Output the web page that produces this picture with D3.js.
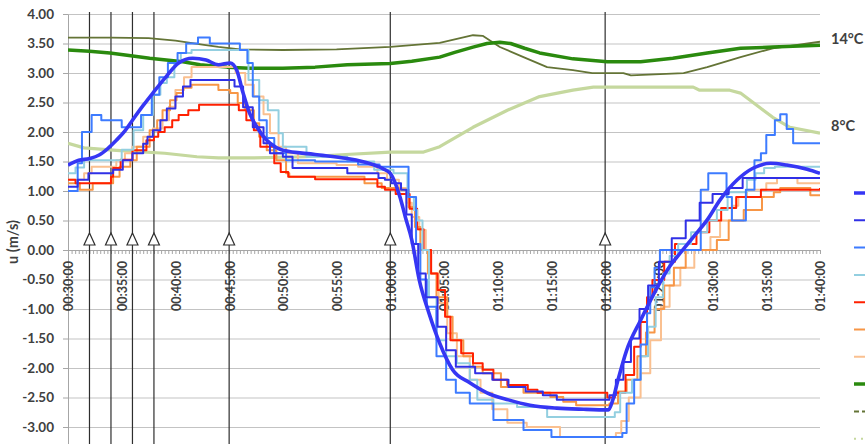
<!DOCTYPE html>
<html>
<head>
<meta charset="utf-8">
<script src="https://cdn.jsdelivr.net/npm/d3@7"></script>
<style>
  html, body { margin: 0; padding: 0; background: #fff; }
  svg { display: block; }
  text { font-family: Lato, "Open Sans", sans-serif; fill: #404040; }
</style>
</head>
<body>
<svg id="chart" width="865" height="444"></svg>
<script>
// x values are minutes of record, u in m/s, temperatures in degC
const xTickLabels = ["00:30:00","00:35:00","00:40:00","00:45:00","00:50:00","00:55:00","01:00:00",
                     "01:05:00","01:10:00","01:15:00","01:20:00","01:25:00","01:30:00","01:35:00","01:40:00"];
const yTickLabels = ["-3.00","-2.50","-2.00","-1.50","-1.00","-0.50","0.00","0.50","1.00","1.50",
                     "2.00","2.50","3.00","3.50","4.00"];
const tempTickLabels = ["8°C", "14°C"];
const markerMinutes = [32, 34, 36, 38, 45, 60, 80];

// depth averaged velocity (thick blue)
const uMean = [[30,1.44],[31,1.52],[32,1.55],[32.9,1.61],[33.7,1.72],[34.5,1.86],[35.3,2.02],[36,2.2],
  [37,2.45],[37.9,2.66],[39.1,2.93],[40.3,3.17],[41.6,3.25],[42.85,3.22],[44,3.14],[45.1,3.17],[45.7,3.05],
  [46.3,2.66],[46.9,2.32],[47.6,2.08],[48.2,1.92],[48.8,1.81],[50,1.69],[53,1.62],[56,1.55],[58,1.47],
  [59.3,1.38],[60,1.3],[60.9,0.9],[61.4,0.56],[62,0.17],[62.7,-0.51],[63.6,-1.07],[64.6,-1.58],[65.8,-2.03],
  [67.4,-2.25],[69,-2.42],[71,-2.54],[73,-2.63],[75.5,-2.68],[78,-2.7],[80.3,-2.71],[80.7,-2.55],[81.2,-2.2],
  [82,-1.7],[83.3,-1.19],[84.9,-0.62],[86,-0.28],[87,-0.05],[88.2,0.22],[89.5,0.51],[90.7,0.85],
  [92.3,1.19],[93.8,1.39],[95.4,1.47],[96.9,1.44],[98.8,1.37],[100,1.3]];

const uBin1 = [[30,1.07],[30.9,1.19],[31.9,1.3],[34.2,1.36],[35.1,1.52],[36,1.64],[37,1.8],[37.4,1.92],
  [37.9,2.03],[38.6,2.2],[39.2,2.4],[40,2.6],[40.7,2.77],[41.4,2.88],[45.5,2.77],[46.3,2.42],[47.2,2.08],
  [48.2,1.81],[48.8,1.64],[50,1.58],[50.9,1.39],[56,1.3],[58.9,1.22],[59.5,1.19],[60.1,1.13],[61,1.02],
  [61.5,0.6],[62,0.1],[62.6,-0.4],[63.3,-0.8],[64.4,-1.3],[65.2,-1.7],[66.1,-1.98],[67.9,-2.09],[69.5,-2.2],
  [71,-2.32],[72.6,-2.4],[74.2,-2.46],[75.5,-2.54],[80.4,-2.46],[81,-2.2],[81.7,-1.9],[82.4,-1.5],[83.2,-1.0],
  [84,-0.6],[85,-0.2],[86.2,0.2],[87.5,0.5],[88.8,0.8],[90,0.95],[91.5,1.05],[92.8,1.22],[100,1.22]];

const uBin2 = [[30,1.0],[30.9,1.47],[31.3,2.0],[32.2,2.29],[33.1,2.2],[35,2.08],[36.8,2.29],[37.8,2.63],
  [38.5,2.93],[39.3,3.17],[40.2,3.34],[41,3.5],[42.1,3.6],[43.2,3.5],[46,3.39],[46.7,3.17],[47.2,2.6],
  [47.8,2.2],[48.5,1.9],[49.2,1.64],[50.3,1.52],[53,1.5],[57,1.45],[59,1.41],[61.7,0.9],[62.4,0.1],
  [62.8,-0.5],[63.4,-0.96],[64.3,-1.8],[65.2,-2.2],[66.1,-2.42],[67.4,-2.6],[69.6,-2.88],[72.4,-3.05],
  [75,-3.17],[81.6,-3.1],[82,-2.6],[82.7,-2.2],[83.3,-1.6],[83.9,-1.07],[84.2,-0.63],[84.6,-0.3],[85.1,0.0],
  [88.9,1.02],[89.6,1.3],[91.3,0.9],[91.8,0.5],[93.1,1.02],[93.9,1.52],[94.5,1.64],[95,1.95],[95.8,2.2],
  [96.3,2.3],[96.9,2.05],[97.5,1.81],[100,1.81]];

const uBin3 = [[30,1.3],[30.7,1.4],[31.5,1.52],[35,1.7],[36.1,2.03],[37,2.29],[37.9,2.63],[38.6,2.83],
  [39.2,2.93],[39.9,3.17],[40.5,3.34],[41.5,3.39],[46.8,2.88],[47.8,2.54],[48.6,2.37],[49.6,1.98],[50,1.75],
  [52.2,1.58],[56,1.5],[58.5,1.36],[60.3,1.3],[61.6,0.9],[62.2,0.68],[62.5,0.5],[63,0.0],[63.6,-0.8],
  [64.3,-1.53],[65.2,-1.8],[66.2,-1.92],[67.4,-2.2],[68.1,-2.54],[69.6,-2.6],[71.8,-2.66],[74.6,-2.83],
  [80.9,-2.75],[81.4,-2.42],[82.5,-2.2],[83.3,-1.8],[84,-1.3],[84.7,-0.8],[85.4,-0.4],[86,-0.1],[86.8,0.1],
  [88,0.3],[89.5,0.5],[90.4,0.68],[91.4,0.98],[93.2,1.19],[94,1.3],[94.8,1.39],[95.8,1.41],[100,1.41]];

const uBin4 = [[30,1.19],[30.7,1.13],[34,1.24],[34.2,1.39],[34.9,1.53],[36,1.69],[37.3,1.86],[38,1.92],
  [38.4,2.0],[39,2.08],[39.7,2.2],[40.3,2.29],[41.2,2.37],[42.2,2.46],[45.9,2.37],[46.6,2.2],[47.3,2.03],
  [47.9,1.75],[49.2,1.47],[49.8,1.32],[50.5,1.24],[53,1.2],[58.8,1.07],[59.5,1.02],[60.5,0.95],[61.8,0.7],
  [62.5,0.35],[63.1,0.0],[63.8,-0.4],[64.4,-0.68],[65.1,-1.13],[65.6,-1.53],[66.6,-1.75],[67.7,-1.92],
  [68.6,-2.03],[69.6,-2.2],[70.9,-2.29],[72.8,-2.37],[73.7,-2.42],[80.2,-2.5],[80.9,-2.42],[81.9,-2.12],
  [82.7,-1.64],[83.3,-1.22],[83.9,-0.8],[84.4,-0.51],[85.5,-0.2],[86.5,0.1],[88.5,0.3],[89.7,0.5],
  [90.8,0.71],[92.2,0.9],[94.5,1.02],[100,1.05]];

const uBin5 = [[30,1.13],[31.1,1.02],[32.3,1.13],[34.2,1.24],[34.8,1.41],[35.8,1.52],[36.4,1.75],[37.6,2.03],
  [38.3,2.2],[38.8,2.37],[39.5,2.54],[40.1,2.66],[40.7,2.75],[41.5,2.8],[44,2.71],[45.1,2.66],[45.8,2.49],
  [46.5,2.37],[47.3,2.15],[47.8,1.92],[48.5,1.69],[49.4,1.52],[50.3,1.3],[50.6,1.24],[57.6,1.13],[59.2,1.05],
  [60.8,1.02],[61.7,0.73],[62.3,0.39],[62.8,0.0],[63.5,-0.4],[64.3,-0.8],[65.3,-1.13],[65.8,-1.53],[66.8,-1.8],
  [67.7,-1.98],[68.6,-2.09],[70.3,-2.32],[72.4,-2.42],[74.9,-2.49],[76.1,-2.57],[77.3,-2.63],[80.4,-2.6],
  [81.2,-2.4],[82,-2.2],[83,-1.8],[83.8,-1.4],[84.6,-1.0],[85.5,-0.6],[86.4,-0.3],[87.5,0.0],[90.4,0.17],
  [91.5,0.5],[92.9,0.68],[94.6,0.9],[95.7,0.98],[96.3,1.05],[99.1,0.93],[100,0.93]];

const uBin6 = [[30,1.19],[31.5,1.3],[32.2,1.41],[34.5,1.52],[35.3,1.64],[36,1.75],[37,1.92],[37.9,2.06],
  [38.8,2.2],[39.4,2.43],[40,2.71],[40.8,2.93],[41.5,3.1],[45.6,3.0],[46.5,2.8],[47.3,2.6],[48.2,2.3],
  [48.8,1.98],[49.6,1.75],[50.3,1.64],[51.4,1.47],[55,1.44],[57,1.41],[58.8,1.3],[59.7,1.19],[60.8,1.05],
  [61.5,0.8],[62,0.56],[62.7,0.34],[63.3,0.0],[63.8,-0.4],[64.5,-0.9],[65.3,-1.41],[66.2,-1.8],[67.4,-2.2],
  [68.4,-2.42],[69.5,-2.7],[70.9,-2.93],[72.7,-3.0],[75.8,-3.17],[81,-3.1],[81.5,-2.9],[82.2,-2.5],
  [83.3,-2.09],[84.2,-1.53],[85.2,-0.96],[86,-0.6],[87,-0.3],[88.3,0.0],[89.8,0.22],[90.7,0.5],[91.8,0.75],
  [92.4,0.9],[93.2,1.02],[95,1.13],[96,1.22],[97.9,1.13],[100,1.13]];

// water temperatures (degC)
const tempTop = [[30,13.24],[32,13.16],[33.9,13.04],[35.5,12.88],[37.6,12.67],[40.7,12.43],[42.3,12.23],
  [44.8,12.06],[46.9,11.98],[50,11.98],[53,12.06],[56,12.23],[60,12.31],[62,12.47],[64.6,12.75],[66,13.08],
  [67.7,13.44],[69,13.69],[70.2,13.77],[71.2,13.69],[72.5,13.36],[73.9,13.04],[77,12.63],[80.2,12.43],
  [83.3,12.43],[86.3,12.67],[89.5,13.04],[92.6,13.36],[95.6,13.44],[100,13.57]];

const tempMid = [[30,14.1],[34,14.1],[37.5,14.06],[40,13.89],[42.5,13.61],[44,13.45],[46,13.28],[50,13.24],
  [55,13.28],[60,13.45],[64.6,13.73],[67.7,14.26],[68.6,14.22],[70.2,13.45],[72.4,12.75],[74.6,12.06],
  [77,11.86],[78.8,11.65],[81.7,11.65],[82.4,11.49],[87.3,11.65],[89.5,12.06],[92.6,12.75],[95.6,13.36],
  [100,13.81]];

const tempBottom = [[30,6.81],[31.5,6.49],[34.5,6.32],[39,6.12],[42,5.88],[44,5.8],[47,5.8],[52,5.88],
  [55,6.0],[60,6.2],[63.1,6.2],[64.6,6.57],[67.7,7.91],[70.9,9.09],[73.9,10.03],[77,10.47],[78.9,10.68],
  [88.2,10.68],[88.8,10.47],[91.6,10.47],[92.6,10.27],[95.6,8.6],[97.2,7.91],[100,7.5]];

const minutesOf = s => { const p = s.split(':').map(Number); return p[0] * 60 + p[1] + p[2] / 60; };

const svg = d3.select('#chart');
const plotLeft = 68, plotRight = 820, plotTop = 14;

const x = d3.scaleLinear().domain([30, 100]).range([plotLeft, plotRight]);
const y = d3.scaleLinear().domain([-3.5, 4]).range([456.5, plotTop]);
const yT = d3.scaleLinear().domain([8, 14]).range([126, 39]);

svg.append('defs').append('clipPath').attr('id', 'plot')
  .append('rect').attr('x', plotLeft).attr('y', 0).attr('width', plotRight - plotLeft).attr('height', 460);

// horizontal grid
svg.append('g')
  .attr('transform', `translate(${plotLeft},0)`)
  .call(d3.axisLeft(y).tickValues(d3.range(-3.5, 4.01, 0.5)).tickSize(-(plotRight - plotLeft)).tickFormat(''))
  .call(g => g.select('.domain').remove())
  .call(g => g.selectAll('line').attr('stroke', '#c3c3c3').attr('stroke-width', 1));

// y axis
svg.append('g')
  .attr('transform', `translate(${plotLeft},0)`)
  .call(d3.axisLeft(y).tickValues(yTickLabels.map(Number)).tickSize(5).tickSizeOuter(0).tickPadding(9)
    .tickFormat((d, i) => yTickLabels[i]))
  .call(g => g.select('.domain').attr('stroke', '#a6a6a6'))
  .call(g => g.selectAll('line').attr('stroke', '#a6a6a6'))
  .call(g => g.selectAll('text').attr('font-size', 13.5).attr('font-weight', 'bold')
    .attr('font-family', 'Lato, sans-serif').attr('fill', '#404040'));

svg.append('text')
  .attr('transform', 'translate(13,242) rotate(-90)')
  .attr('text-anchor', 'middle').attr('dy', '0.35em')
  .attr('font-size', 14.5).attr('font-weight', 'bold')
  .text('u (m/s)');

// x axis along u = 0 with minor ticks every 20 s
svg.append('g')
  .attr('transform', `translate(0,${y(0)})`)
  .call(d3.axisBottom(x).tickValues(d3.range(30, 100.001, 1 / 3)).tickSize(4).tickSizeOuter(0).tickFormat(''))
  .call(g => g.select('.domain').attr('stroke', '#a6a6a6'))
  .call(g => g.selectAll('line').attr('stroke', '#a6a6a6'));

svg.append('g').selectAll('text')
  .data(xTickLabels)
  .join('text')
  .attr('transform', d => `translate(${x(minutesOf(d)) + 1},${y(0) + 11}) rotate(-90)`)
  .attr('text-anchor', 'end').attr('dy', '0.35em')
  .attr('font-size', 12.5).attr('font-weight', 'bold')
  .text(d => d);

// vertical marker lines
svg.append('g').selectAll('line')
  .data(markerMinutes)
  .join('line')
  .attr('x1', d => x(d)).attr('x2', d => x(d))
  .attr('y1', plotTop - 2).attr('y2', 444)
  .attr('stroke', '#2e2e2e').attr('stroke-width', 1.2);

// series
const line = curve => d3.line().x(d => x(d[0])).y(d => y(d[1])).curve(curve);
const lineT = curve => d3.line().x(d => x(d[0])).y(d => yT(d[1])).curve(curve);

const series = [
  { data: uMean, color: '#3636f4', width: 3.6, gen: line(d3.curveMonotoneX) },
  { data: uBin1, color: '#3030e6', width: 2, gen: line(d3.curveStepAfter) },
  { data: uBin2, color: '#3d7bff', width: 2, gen: line(d3.curveStepAfter) },
  { data: uBin3, color: '#93cfe0', width: 2, gen: line(d3.curveStepAfter) },
  { data: uBin4, color: '#ff2000', width: 2, gen: line(d3.curveStepAfter) },
  { data: uBin5, color: '#f79646', width: 2, gen: line(d3.curveStepAfter) },
  { data: uBin6, color: '#fac090', width: 2, gen: line(d3.curveStepAfter) },
  { data: tempTop, color: '#2a8a0e', width: 3.5, gen: lineT(d3.curveLinear), legend: null },
  { data: tempMid, color: '#647436', width: 1.8, gen: lineT(d3.curveLinear), legend: '5,3' },
  { data: tempBottom, color: '#c5d89e', width: 3.2, gen: lineT(d3.curveLinear), legend: '2,5' }
];

const plot = svg.append('g').attr('clip-path', 'url(#plot)');
const drawOrder = [9, 8, 7, 6, 5, 4, 3, 2, 1, 0];
plot.selectAll('path')
  .data(drawOrder.map(i => series[i]))
  .join('path')
  .attr('d', s => s.gen(s.data))
  .attr('fill', 'none')
  .attr('stroke', s => s.color)
  .attr('stroke-width', s => s.width)
  .attr('stroke-linejoin', 'round');

// arrow markers on the zero line
svg.append('g').selectAll('path')
  .data(markerMinutes)
  .join('path')
  .attr('d', d => `M${x(d) - 5.5},${y(0) - 5} L${x(d) + 5.5},${y(0) - 5} L${x(d)},${y(0) - 17} Z`)
  .attr('fill', '#fff').attr('stroke', '#2e2e2e').attr('stroke-width', 1.2);

// temperature scale labels
svg.append('g').selectAll('text')
  .data(tempTickLabels)
  .join('text')
  .attr('x', 831)
  .attr('y', d => yT(parseFloat(d)))
  .attr('dy', '0.35em')
  .attr('font-family', '"Liberation Serif", "DejaVu Serif", serif')
  .attr('font-size', 14.5).attr('font-weight', 'bold')
  .attr('fill', '#333')
  .text(d => d);

// legend keys (labels fall outside the frame)
svg.append('g').selectAll('line')
  .data(series)
  .join('line')
  .attr('x1', 854).attr('x2', 890)
  .attr('y1', (s, i) => 193 + i * 27.3).attr('y2', (s, i) => 193 + i * 27.3)
  .attr('stroke', s => s.color)
  .attr('stroke-width', s => s.width >= 3.5 ? 3.5 : 2)
  .attr('stroke-dasharray', s => s.legend || null);
</script>
</body>
</html>
